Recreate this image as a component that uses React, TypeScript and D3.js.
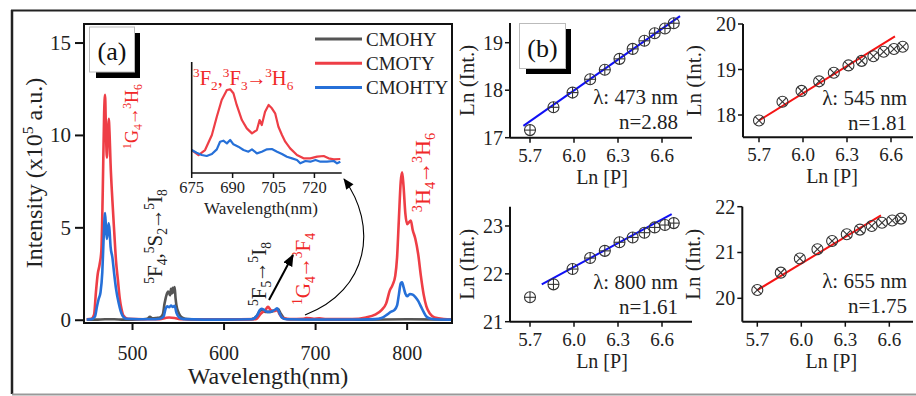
import React from 'react';
import * as d3 from 'd3';

// ---------- Panel (a): emission spectra (intensity in x10^5 a.u.) ----------
const grayWl = [450, 460, 470, 480, 490, 500, 510, 516, 519, 522, 526, 530, 533, 535, 537, 539, 541, 542, 543, 544, 545, 546, 547, 548, 550, 552, 555, 560, 570, 600, 630, 636, 639, 642, 645, 648, 651, 654, 657, 659, 662, 666, 672, 700, 750, 800, 850];
const grayI = [0.03, 0.03, 0.05, 0.05, 0.03, 0.03, 0.05, 0.08, 0.18, 0.1, 0.12, 0.15, 0.3, 0.9, 1.35, 1.55, 1.35, 1.7, 1.45, 1.75, 1.5, 1.8, 1.2, 0.8, 0.45, 0.25, 0.12, 0.06, 0.04, 0.03, 0.05, 0.25, 0.5, 0.55, 0.45, 0.45, 0.45, 0.5, 0.55, 0.6, 0.35, 0.1, 0.05, 0.04, 0.03, 0.05, 0.03];

const redWl = [450, 455, 458, 460, 462, 464, 466, 467.5, 469, 470, 471, 472, 473, 474, 475, 476, 478, 480, 482, 484, 486, 488, 490, 495, 530, 536, 540, 546, 552, 600, 635, 640, 645, 648, 651, 655, 658, 661, 665, 672, 686, 690, 698, 704, 712, 740, 755, 765, 772, 777, 781, 784, 787, 789, 791, 793, 794.5, 796, 798, 800, 802, 804, 806, 809, 812, 815, 818, 821, 825, 830, 840, 850];
const redI = [0.05, 0.08, 0.3, 1.5, 2.5, 3.0, 3.8, 7.0, 11.2, 12.2, 10.2, 8.8, 10.0, 10.9, 10.0, 8.5, 6.5, 4.8, 3.2, 2.2, 1.2, 0.6, 0.25, 0.08, 0.05, 0.12, 0.15, 0.12, 0.05, 0.04, 0.06, 0.35, 0.55, 0.72, 0.55, 0.5, 0.55, 0.3, 0.1, 0.06, 0.08, 0.12, 0.08, 0.1, 0.06, 0.06, 0.15, 0.3, 0.55, 0.9, 1.6, 1.9, 2.4, 3.4, 5.5, 7.5, 8.0, 7.3, 5.8, 5.2, 5.3, 5.4, 4.9, 4.4, 3.6, 2.4, 1.4, 0.75, 0.35, 0.15, 0.07, 0.05];

const blueWl = [450, 455, 459, 461, 463, 465, 467, 468.5, 470, 471, 472, 473, 474, 475, 476, 478, 480, 482, 485, 487, 489, 493, 520, 530, 534, 536, 538, 540, 542, 544, 546, 548, 551, 556, 600, 630, 636, 639, 641, 644, 647, 650, 653, 656, 658, 660, 663, 668, 700, 750, 765, 772, 778, 782, 786, 789, 791, 793, 794.5, 796, 798, 800, 803, 806, 809, 812, 815, 818, 821, 826, 835, 850];
const blueI = [0.04, 0.05, 0.2, 0.7, 1.15, 1.5, 2.6, 4.5, 5.8, 5.0, 4.4, 4.9, 5.25, 4.8, 4.0, 3.4, 2.5, 1.7, 0.9, 0.5, 0.25, 0.08, 0.05, 0.08, 0.2, 0.6, 0.75, 0.7, 0.8, 0.72, 0.78, 0.4, 0.15, 0.06, 0.03, 0.05, 0.25, 0.55, 0.62, 0.55, 0.45, 0.45, 0.5, 0.58, 0.65, 0.45, 0.15, 0.05, 0.04, 0.04, 0.06, 0.12, 0.3, 0.45, 0.55, 0.8, 1.4, 2.0, 2.05, 1.8, 1.45, 1.3, 1.42, 1.38, 1.25, 1.05, 0.75, 0.45, 0.2, 0.08, 0.04, 0.03];

// Inset (675-730 nm), relative intensity
const insetRedWl = [675.0, 677.5, 679.9, 682.4, 684.2, 686.0, 687.9, 689.1, 690.3, 691.5, 693.4, 695.2, 697.1, 698.9, 699.9, 700.7, 701.9, 703.2, 704.4, 705.6, 706.8, 708.1, 709.3, 711.1, 713.6, 716.0, 718.5, 721.0, 723.4, 725.2, 727.1, 729.5];
const insetRedI = [0.207, 0.162, 0.207, 0.342, 0.507, 0.658, 0.748, 0.754, 0.718, 0.613, 0.477, 0.402, 0.357, 0.387, 0.477, 0.432, 0.552, 0.613, 0.583, 0.538, 0.417, 0.342, 0.282, 0.222, 0.162, 0.132, 0.132, 0.147, 0.153, 0.132, 0.123, 0.126];
const insetBlueWl = [675.0, 676.8, 678.7, 680.5, 682.4, 684.2, 685.4, 686.6, 687.9, 689.1, 690.3, 692.1, 694.0, 695.8, 697.1, 698.9, 700.7, 702.6, 704.4, 706.3, 708.1, 709.9, 711.8, 713.6, 714.8, 716.7, 718.5, 720.4, 722.2, 724.6, 727.1, 728.3, 729.5];
const insetBlueI = [0.207, 0.183, 0.162, 0.153, 0.171, 0.213, 0.282, 0.291, 0.267, 0.297, 0.258, 0.237, 0.207, 0.192, 0.213, 0.177, 0.192, 0.213, 0.216, 0.192, 0.171, 0.147, 0.132, 0.117, 0.087, 0.108, 0.102, 0.117, 0.102, 0.102, 0.108, 0.087, 0.102];

const mainXTicks = [500, 600, 700, 800];
const mainYTicks = [0, 5, 10, 15];
const insetXTicks = [675, 690, 705, 720];
const seriesNames = ['CMOHY', 'CMOTY', 'CMOHTY'];

// ---------- Panel (b): power dependence ----------
const lnP = [5.70, 5.86, 5.99, 6.11, 6.21, 6.31, 6.40, 6.48, 6.55, 6.62, 6.68];
const ln473 = [17.16, 17.64, 17.95, 18.23, 18.43, 18.66, 18.87, 19.04, 19.20, 19.30, 19.41];
const ln545 = [17.88, 18.29, 18.53, 18.74, 18.93, 19.09, 19.19, 19.29, 19.39, 19.45, 19.50];
const ln800 = [21.51, 21.78, 22.10, 22.33, 22.48, 22.66, 22.76, 22.86, 22.97, 23.02, 23.06];
const ln655 = [20.18, 20.56, 20.87, 21.07, 21.25, 21.40, 21.50, 21.58, 21.65, 21.70, 21.74];
const fit473 = [[5.655, 17.25], [6.723, 19.56]];
const fit545 = [[5.70, 17.88], [6.627, 19.73]];
const fit800 = [[5.78, 21.78], [6.666, 23.25]];
const fit655 = [[5.70, 20.18], [6.543, 21.81]];
const bXTicks = [5.7, 6.0, 6.3, 6.6];
const yTicks473 = [17, 18, 19];
const yTicks545 = [18, 19, 20];
const yTicks800 = [21, 22, 23];
const yTicks655 = [20, 21, 22];
const lambdaLabels = ['λ: 473 nm', 'λ: 545 nm', 'λ: 800 nm', 'λ: 655 nm'];
const nLabels = ['n=2.88', 'n=1.81', 'n=1.61', 'n=1.75'];

const FONT = "'Liberation Serif', 'Times New Roman', serif";
const C_GRAY = '#555555';
const C_RED = '#ee3e46';
const C_BLUE = '#2670d8';
const FIT_BLUE = '#1010f5';
const FIT_RED = '#f51414';

type Seg = [string, string];
const Rich = ({ segs, size, ...rest }: any) => {
  let cur = 0;
  let prevArrow = false;
  return (
    <text fontSize={size} fontFamily={FONT} {...rest}>
      {segs.map(([t, m]: Seg, i: number) => {
        const target = m === 'sup' ? -0.38 * size : m === 'sub' ? 0.22 * size : 0;
        const dy = target - cur;
        cur = target;
        const isArrow = t === '→';
        const dx = isArrow || prevArrow ? -0.07 * size : 0;
        prevArrow = isArrow;
        return (
          <tspan key={i} dy={dy} dx={dx || undefined} fontSize={m ? size * 0.65 : size}>{t}</tspan>
        );
      })}
    </text>
  );
};

const zip = (a: number[], b: number[]) => a.map((v, i) => [v, b[i]] as [number, number]);

function PowerPlot({ cfg }: any) {
  const x = d3.scaleLinear().domain(cfg.xDom).range([cfg.left, cfg.right]);
  const y = d3.scaleLinear().domain(cfg.yDom).range([cfg.bottom, cfg.top]);
  const pts = zip(lnP, cfg.ys);
  const r = 5.5;
  return (
    <g fontFamily={FONT}>
      <line x1={cfg.left} x2={cfg.right} y1={cfg.bottom} y2={cfg.bottom} stroke="#111" strokeWidth={2} />
      <line x1={cfg.left} x2={cfg.left} y1={cfg.top} y2={cfg.bottom} stroke="#111" strokeWidth={2} />
      {bXTicks.map((t) => (
        <g key={t}>
          <line x1={x(t)} x2={x(t)} y1={cfg.bottom} y2={cfg.bottom + 5} stroke="#111" strokeWidth={1.5} />
          <text x={x(t)} y={cfg.bottom + 24} fontSize={19} textAnchor="middle" fill="#222">{t.toFixed(1)}</text>
        </g>
      ))}
      {cfg.yTicks.map((t: number) => (
        <g key={t}>
          <line x1={cfg.left - 5} x2={cfg.left} y1={y(t)} y2={y(t)} stroke="#111" strokeWidth={1.5} />
          <text x={cfg.left - 7} y={y(t) + 7} fontSize={20} textAnchor="end" fill="#222">{t}</text>
        </g>
      ))}
      <text x={cfg.left + cfg.xTitleDx} y={cfg.bottom + 46} fontSize={20} textAnchor="middle" fill="#222">Ln [P]</text>
      <text transform={`translate(${cfg.left - cfg.yTitleDx},${(cfg.top + cfg.bottom) / 2}) rotate(-90)`} fontSize={21} textAnchor="middle" fill="#222">Ln (Int.)</text>
      <line x1={x(cfg.fit[0][0])} y1={y(cfg.fit[0][1])} x2={x(cfg.fit[1][0])} y2={y(cfg.fit[1][1])} stroke={cfg.fitColor} strokeWidth={2} />
      {pts.map(([px, py], i) => {
        const cx = x(px), cy = y(py);
        const d = cfg.marker === 'plus' ? r : r * 0.7071;
        return (
          <g key={i} stroke="#333" strokeWidth={1.1} fill="none">
            <circle cx={cx} cy={cy} r={r} />
            {cfg.marker === 'plus' ? (
              <>
                <line x1={cx - d} x2={cx + d} y1={cy} y2={cy} />
                <line x1={cx} x2={cx} y1={cy - d} y2={cy + d} />
              </>
            ) : (
              <>
                <line x1={cx - d} x2={cx + d} y1={cy - d} y2={cy + d} />
                <line x1={cx - d} x2={cx + d} y1={cy + d} y2={cy - d} />
              </>
            )}
          </g>
        );
      })}
      <text x={cfg.textX} y={cfg.textY} fontSize={21} textAnchor="end" fill="#222">{cfg.lam}</text>
      <text x={cfg.textX} y={cfg.textY + 25} fontSize={21} textAnchor="end" fill="#222">{cfg.n}</text>
    </g>
  );
}

export default function App() {
  const mX = d3.scaleLinear().domain([447, 849]).range([84, 452]);
  const mY = d3.scaleLinear().domain([-0.15, 16.03]).range([323, 24]);
  const iX = d3.scaleLinear().domain([675, 730]).range([191.7, 341.7]);
  const iY = d3.scaleLinear().domain([0, 1]).range([173, 62]);
  const line = d3.line<[number, number]>().x((d) => mX(d[0])).y((d) => mY(d[1])).curve(d3.curveMonotoneX);
  const iLine = d3.line<[number, number]>().x((d) => iX(d[0])).y((d) => iY(d[1]));

  const series = [
    { name: seriesNames[0], color: C_GRAY, data: zip(grayWl, grayI) },
    { name: seriesNames[1], color: C_RED, data: zip(redWl, redI) },
    { name: seriesNames[2], color: C_BLUE, data: zip(blueWl, blueI) },
  ];

  const plots = [
    { ys: ln473, fit: fit473, fitColor: FIT_BLUE, marker: 'plus', left: 510, right: 692, top: 23, bottom: 137.7, xDom: [5.5636, 6.8045], yDom: [17, 19.415], yTicks: yTicks473, lam: lambdaLabels[0], n: nLabels[0], textX: 678, textY: 104, xTitleDx: 92, yTitleDx: 36 },
    { ys: ln545, fit: fit545, fitColor: FIT_RED, marker: 'x', left: 743, right: 913, top: 24, bottom: 137.3, xDom: [5.5909, 6.75], yDom: [17.51, 20], yTicks: yTicks545, lam: lambdaLabels[1], n: nLabels[1], textX: 907, textY: 105, xTitleDx: 89, yTitleDx: 42 },
    { ys: ln800, fit: fit800, fitColor: FIT_BLUE, marker: 'plus', left: 510, right: 692, top: 206.7, bottom: 321.7, xDom: [5.5636, 6.8045], yDom: [21, 23.403], yTicks: yTicks800, lam: lambdaLabels[2], n: nLabels[2], textX: 678, textY: 289, xTitleDx: 92, yTitleDx: 36 },
    { ys: ln655, fit: fit655, fitColor: FIT_RED, marker: 'x', left: 742.3, right: 913, top: 206.7, bottom: 321.7, xDom: [5.5977, 6.7615], yDom: [19.489, 22], yTicks: yTicks655, lam: lambdaLabels[3], n: nLabels[3], textX: 907, textY: 288, xTitleDx: 89, yTitleDx: 42 },
  ];

  const g4h6: Seg[] = [['1', 'sup'], ['G', ''], ['4', 'sub'], ['→', ''], ['3', 'sup'], ['H', ''], ['6', 'sub']];
  const h4h6: Seg[] = [['3', 'sup'], ['H', ''], ['4', 'sub'], ['→', ''], ['3', 'sup'], ['H', ''], ['6', 'sub']];
  const f4s2: Seg[] = [['5', 'sup'], ['F', ''], ['4', 'sub'], [',', ''], ['5', 'sup'], ['S', ''], ['2', 'sub'], ['→', ''], ['5', 'sup'], ['I', ''], ['8', 'sub']];
  const f5i8: Seg[] = [['5', 'sup'], ['F', ''], ['5', 'sub'], ['→', ''], ['5', 'sup'], ['I', ''], ['8', 'sub']];
  const g4f4: Seg[] = [['1', 'sup'], ['G', ''], ['4', 'sub'], ['→', ''], ['3', 'sup'], ['F', ''], ['4', 'sub']];
  const f2f3: Seg[] = [['3', 'sup'], ['F', ''], ['2', 'sub'], [',', ''], ['3', 'sup'], ['F', ''], ['3', 'sub'], ['→', ''], ['3', 'sup'], ['H', ''], ['6', 'sub']];
  const ytitle: Seg[] = [['Intensity (x10', ''], ['5', 'sup'], [' a.u.)', '']];

  return (
    <svg width={916} height={396} style={{ position: 'absolute', left: 0, top: 0, background: '#fff' }} fontFamily={FONT}>
      <defs>
        <clipPath id="mainClip"><rect x={84} y={24} width={368} height={299} /></clipPath>
        <marker id="ahBig" viewBox="0 0 12 10" refX={11} refY={5} markerWidth={12} markerHeight={10} markerUnits="userSpaceOnUse" orient="auto">
          <path d="M0,0 L12,5 L0,10 z" fill="#000" />
        </marker>
        <marker id="ahSmall" viewBox="0 0 12 10" refX={11} refY={5} markerWidth={12} markerHeight={9} markerUnits="userSpaceOnUse" orient="auto">
          <path d="M0,0 L12,5 L0,10 z" fill="#000" />
        </marker>
      </defs>
      <rect x={0} y={0} width={916} height={396} fill="#fff" />
      {/* outer frame */}
      <line x1={11} x2={916} y1={10.5} y2={10.5} stroke="#222" strokeWidth={2} />
      <line x1={12} x2={12} y1={10} y2={394} stroke="#222" strokeWidth={2.5} />
      <line x1={12} x2={916} y1={394.5} y2={394.5} stroke="#999" strokeWidth={2} />

      {/* ---------- Panel (a) ---------- */}
      <g clipPath="url(#mainClip)">
        {series.map((s) => (
          <path key={s.name} d={line(s.data) || ''} fill="none" stroke={s.color} strokeWidth={2.6} strokeLinejoin="round" />
        ))}
      </g>
      <rect x={84} y={24} width={368} height={299} fill="none" stroke="#111" strokeWidth={2} />
      {mainXTicks.map((t) => (
        <g key={t}>
          <line x1={mX(t)} x2={mX(t)} y1={323} y2={330} stroke="#111" strokeWidth={2} />
          <text x={mX(t)} y={360} fontSize={20} textAnchor="middle" fill="#222">{t}</text>
        </g>
      ))}
      {mainYTicks.map((t) => (
        <g key={t}>
          <line x1={75} x2={84} y1={mY(t)} y2={mY(t)} stroke="#111" strokeWidth={2} />
          <text x={71} y={mY(t) + 7} fontSize={21} textAnchor="end" fill="#222">{t}</text>
        </g>
      ))}
      <text x={268} y={384} fontSize={24} textAnchor="middle" fill="#222">Wavelength(nm)</text>
      <Rich segs={ytitle} size={24} fill="#222" textAnchor="middle" transform="translate(42,173) rotate(-90)" />

      {/* (a) badge */}
      <rect x={96} y={33} width={44} height={45} fill="#000" />
      <rect x={89.5} y={27} width={45} height={45} fill="#fff" stroke="#bbb" strokeWidth={1} />
      <text x={112} y={60} fontSize={26} textAnchor="middle" fill="#111">(a)</text>

      {/* legend */}
      {series.map((s, i) => (
        <g key={s.name}>
          <line x1={315} x2={362} y1={39 + i * 24.2} y2={39 + i * 24.2} stroke={s.color} strokeWidth={3} />
          <text x={366} y={46 + i * 24.2} fontSize={19} fill="#222">{s.name}</text>
        </g>
      ))}

      {/* annotations */}
      <Rich segs={g4h6} size={18} fill="#f02828" textAnchor="middle" transform="translate(138,116.5) rotate(-90)" />
      <Rich segs={h4h6} size={22} fill="#f02828" textAnchor="middle" transform="translate(430,172.5) rotate(-90)" />
      <Rich segs={f4s2} size={21} fill="#222" textAnchor="middle" transform="translate(162,236.5) rotate(-90)" />
      <Rich segs={f5i8} size={21} fill="#222" textAnchor="middle" transform="translate(266,274) rotate(-90)" />
      <Rich segs={g4f4} size={21} fill="#f02828" textAnchor="middle" transform="translate(310,269) rotate(-90)" />

      <line x1={269} y1={300} x2={293} y2={255} stroke="#000" strokeWidth={2} markerEnd="url(#ahBig)" />
      <path d="M305,315 C370,290 378,225 344,179" fill="none" stroke="#000" strokeWidth={1.1} markerEnd="url(#ahSmall)" />

      {/* inset */}
      <path d={iLine(zip(insetRedWl, insetRedI)) || ''} fill="none" stroke={C_RED} strokeWidth={2.2} strokeLinejoin="round" />
      <path d={iLine(zip(insetBlueWl, insetBlueI)) || ''} fill="none" stroke={C_BLUE} strokeWidth={2.2} strokeLinejoin="round" />
      <line x1={191.7} x2={341.7} y1={173} y2={173} stroke="#111" strokeWidth={1.6} />
      <line x1={191.7} x2={191.7} y1={62} y2={173} stroke="#111" strokeWidth={1.6} />
      {insetXTicks.map((t) => (
        <g key={t}>
          <line x1={iX(t)} x2={iX(t)} y1={173} y2={178} stroke="#111" strokeWidth={1.5} />
          <text x={iX(t)} y={193} fontSize={16.5} textAnchor="middle" fill="#222">{t}</text>
        </g>
      ))}
      <text x={261} y={214} fontSize={17} textAnchor="middle" fill="#222">Wavelength(nm)</text>
      <Rich segs={f2f3} size={20.5} fill="#f02828" x={193} y={85} />

      {/* ---------- Panel (b) ---------- */}
      {plots.map((p, i) => <PowerPlot key={i} cfg={p} />)}
      <rect x={526} y={29} width={45} height={45} fill="#000" />
      <rect x={519.5} y={23.5} width={46} height={45} fill="#fff" stroke="#bbb" strokeWidth={1} />
      <text x={542.5} y={57} fontSize={26} textAnchor="middle" fill="#111">(b)</text>
    </svg>
  );
}
